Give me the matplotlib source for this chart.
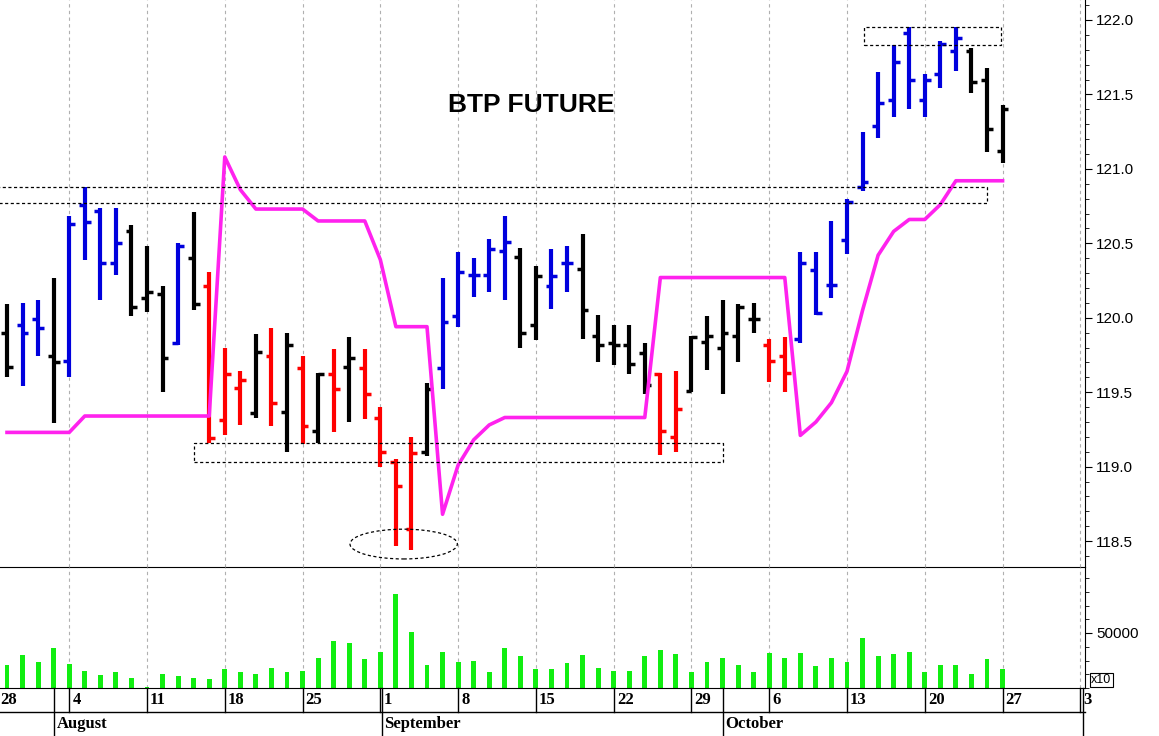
import matplotlib
matplotlib.use("Agg")
import matplotlib.pyplot as plt
from matplotlib.patches import Rectangle, Ellipse
from matplotlib.ticker import MultipleLocator, FixedLocator

opens = [119.90,119.95,119.99,119.74,119.71,120.76,120.72,120.37,120.58,120.13,120.16,119.83,120.40,
         120.21,119.31,119.53,119.36,119.74,119.37,119.66,119.24,119.62,119.67,119.66,119.33,119.03,118.58,
         119.10,119.66,120.01,120.29,120.29,120.45,120.41,119.95,120.21,120.37,120.33,119.88,119.83,119.82,
         119.76,119.62,119.20,119.51,119.84,119.80,119.88,119.99,119.82,119.74,119.86,120.32,120.22,120.52,
         120.88,121.29,121.46,121.91,121.46,121.64,121.79,121.79,121.60,121.12]
highs = [120.09,120.10,120.12,120.27,120.68,120.88,120.74,120.74,120.62,120.48,120.21,120.50,120.71,
         120.31,119.80,119.64,119.89,119.93,119.90,119.74,119.63,119.79,119.87,119.79,119.40,119.05,119.20,
         119.56,120.27,120.44,120.40,120.53,120.68,120.47,120.35,120.46,120.48,120.56,120.02,119.95,119.95,
         119.83,119.63,119.64,119.88,120.01,120.12,120.09,120.10,119.86,119.87,120.44,120.44,120.65,120.80,
         121.25,121.65,121.83,121.95,121.64,121.86,121.95,121.81,121.68,121.43]
lows = [119.60,119.54,119.74,119.29,119.60,120.39,120.12,120.29,120.01,120.04,119.50,119.82,120.05,
        119.16,119.21,119.28,119.33,119.27,119.10,119.15,119.16,119.23,119.30,119.32,119.00,118.47,118.44,
        119.07,119.52,119.94,120.14,120.17,120.12,119.80,119.85,120.06,120.17,119.86,119.70,119.68,119.62,
        119.49,119.08,119.10,119.50,119.65,119.49,119.70,119.90,119.57,119.50,119.83,120.02,120.13,120.43,
        120.85,121.21,121.35,121.40,121.35,121.54,121.66,121.51,121.11,121.04]
closes = [119.67,119.90,119.93,119.70,120.63,120.64,120.37,120.50,120.07,120.17,119.73,120.48,120.09,
          119.19,119.62,119.58,119.77,119.43,119.82,119.27,119.62,119.52,119.73,119.49,119.10,118.87,119.09,
          119.52,119.97,120.31,120.29,120.46,120.51,119.90,120.28,120.28,120.37,120.05,119.82,119.82,119.69,
          119.55,119.24,119.39,119.87,119.88,119.90,120.07,119.99,119.71,119.63,120.37,120.03,120.22,120.78,
          120.91,121.44,121.72,121.60,121.60,121.84,121.88,121.58,121.27,121.40]
bar_colors = list("KBBKBBBBKKKBK" "RRRKRKRKRKRRRRK" "BBBBBKKBB" "KKKKKRR" "KKKKKRR" "BBBBBBBBBBB" "KKK")
support = [119.23]*5 + [119.34]*9 + [121.08,120.86] + [120.73]*4 + [120.65]*4 + [120.39] + [119.94]*3 + \
          [118.68,119.01,119.18,119.28] + [119.33]*10 + [120.27]*9 + \
          [119.21,119.30,119.43,119.64,120.05,120.42,120.58,120.66,120.66,120.76] + [120.92]*4
volume = [20900,30000,23400,36400,21800,15500,11800,14300,9100,1200,12700,10600,9100,8200,17300,14300,
          13000,18200,14500,15700,27300,42700,40600,26400,32700,85700,50900,20900,32700,23600,24500,14300,
          36400,28800,17300,17300,22500,30000,18200,15700,15500,28800,34300,31200,14500,23600,27300,20900,
          14300,31500,27300,31500,19700,27300,23600,45500,28800,31200,32700,14500,20900,20900,13000,26100,17300]
day_labels = ["28","4","11","18","25","1","8","15","22","29","6","13","20","27","3"]
month_labels = ["August", "September", "October", "N"]

cmap = {"K": "black", "B": "#0000dd", "R": "#ff0000"}
W, H = 1159, 736
fig = plt.figure(figsize=(W/100, H/100), dpi=100)
axp = fig.add_axes([0, 1-567/H, 1085/W, 567/H])
axv = fig.add_axes([0, 1-688/H, 1085/W, 121/H])
axv.patch.set_visible(False)
xmin, xmax = -0.45, 69.3
n = len(opens)
grid_x = [4 + 5*k for k in range(-1, 14)]

for ax in (axp, axv):
    ax.set_xlim(xmin, xmax)
    for g in grid_x:
        ax.axvline(g, color="#b0b0b0", lw=0.8, ls=(0, (3, 3)), zorder=0)
    for s in ("left", "top"):
        ax.spines[s].set_visible(False)
    ax.spines["right"].set_color("black")
    ax.yaxis.tick_right()
    ax.set_xticks([])
    ax.tick_params(axis="y", direction="out", labelsize=11, length=5, pad=3)

axp.set_ylim(118.326, 122.134)
for i in range(n):
    c = cmap[bar_colors[i]]
    axp.plot([i, i], [lows[i], highs[i]], color=c, lw=3, solid_capstyle="butt")
    axp.plot([i-0.38, i], [opens[i], opens[i]], color=c, lw=2.5, solid_capstyle="butt")
    axp.plot([i, i+0.38], [closes[i], closes[i]], color=c, lw=2.5, solid_capstyle="butt")
axp.plot(range(n), support, color="#ff22ee", lw=2.6, zorder=3)
axp.yaxis.set_major_locator(MultipleLocator(0.5))
axp.yaxis.set_minor_locator(MultipleLocator(0.1))
axp.yaxis.set_major_formatter(matplotlib.ticker.FormatStrFormatter("%.1f"))
axp.tick_params(axis="y", which="minor", length=3, direction="out")
for lbl in axp.get_yticklabels():
    lbl.set_fontfamily("Liberation Sans")

dash = dict(fill=False, ls=(0, (2.5, 2)), lw=0.9, ec="black", zorder=4)
axp.add_patch(Rectangle((55.1, 121.83), 8.8, 0.12, **dash))
axp.add_patch(Rectangle((-1, 120.77), 63.98, 0.11, **dash))
axp.add_patch(Rectangle((12.0, 119.03), 34.0, 0.13, **dash))
axp.add_patch(Ellipse((25.5, 118.48), 6.9, 0.2, **dash))
axp.text(33.7, 121.43, "BTP FUTURE", fontsize=19, fontweight="bold",
         family="Liberation Sans", ha="center", va="center")

axv.bar(range(n), volume, width=0.32, color="#11ee11")
axv.set_ylim(0, 110000)
axv.yaxis.set_major_locator(FixedLocator([50000]))
axv.yaxis.set_minor_locator(MultipleLocator(12500))
axv.tick_params(axis="y", which="minor", length=3, direction="out")
for lbl in axv.get_yticklabels():
    lbl.set_fontfamily("Liberation Sans")
fig.text(1091/W, 1-680/H, "x10", fontsize=9, family="Liberation Sans", va="center",
         bbox=dict(boxstyle="square,pad=0.1", fc="white", ec="black", lw=0.8))

# date axis
tr = axv.get_xaxis_transform()
row1 = -24/121
row2 = -48/121
axv.plot([xmin, xmax], [row1, row1], transform=tr, color="black", lw=1, clip_on=False)
for k, g in enumerate(grid_x):
    if xmin - 1 < g < xmax + 1:
        axv.plot([g, g], [0, row1], transform=tr, color="black", lw=1, clip_on=False)
    tx = max(g + 0.2, -0.45)
    axv.text(tx, row1/2, day_labels[k], transform=tr, fontsize=12, fontweight="bold",
             family="Liberation Serif", va="center", ha="left")
month_x = [3.05, 24.1, 46.0, 69.15]
for mx, ml in zip(month_x, month_labels):
    axv.plot([mx, mx], [0, row2], transform=tr, color="black", lw=1, clip_on=False)
    if mx < xmax - 0.5:
        axv.text(mx + 0.15, (row1+row2)/2, ml, transform=tr, fontsize=12, fontweight="bold",
                 family="Liberation Serif", va="center", ha="left")

fig.savefig("out.png", dpi=100)
